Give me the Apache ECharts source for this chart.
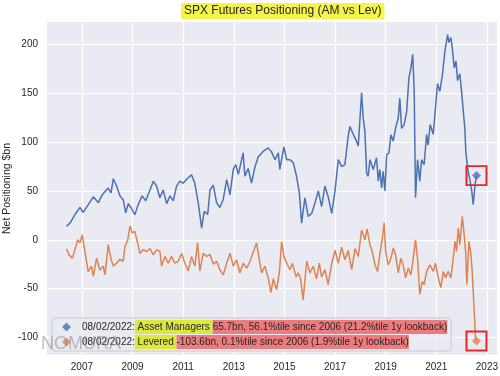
<!DOCTYPE html>
<html>
<head>
<meta charset="utf-8">
<title>SPX Futures Positioning (AM vs Lev)</title>
<script src="https://cdn.jsdelivr.net/npm/echarts@6.0.0/dist/echarts.min.js"></script>
<style>
  html, body { margin: 0; padding: 0; background: #ffffff; }
  #chart { width: 500px; height: 376px; }
</style>
</head>
<body>
<div id="chart"></div>
<script>
// dates as decimal years, values in $bn
const amDates = [
  2006.39, 2006.53, 2006.72, 2006.92,
  2007.05, 2007.25, 2007.45, 2007.65, 2007.78, 2007.91,
  2008.04, 2008.15, 2008.24, 2008.37, 2008.50, 2008.63, 2008.73, 2008.83, 2008.96,
  2009.09, 2009.22, 2009.38, 2009.52, 2009.69, 2009.82, 2009.95,
  2010.08, 2010.21, 2010.35, 2010.48, 2010.61, 2010.74, 2010.87,
  2011.00, 2011.14, 2011.33, 2011.46, 2011.60, 2011.73, 2011.83, 2011.97,
  2012.06, 2012.19, 2012.32, 2012.45, 2012.58, 2012.72, 2012.85, 2012.98,
  2013.08, 2013.18, 2013.31, 2013.37, 2013.44, 2013.57, 2013.70, 2013.84, 2013.97,
  2014.16, 2014.36, 2014.49, 2014.63, 2014.76, 2014.82, 2014.98,
  2015.09, 2015.22, 2015.35, 2015.48, 2015.59, 2015.68, 2015.81, 2015.94,
  2016.08, 2016.21, 2016.34, 2016.47, 2016.60, 2016.73, 2016.87,
  2017.00, 2017.13, 2017.26, 2017.39, 2017.52, 2017.59, 2017.72, 2017.85, 2017.92,
  2018.05, 2018.11, 2018.18, 2018.25, 2018.31, 2018.38, 2018.51, 2018.64, 2018.71, 2018.77, 2018.84, 2018.90, 2018.97,
  2019.04, 2019.13, 2019.21, 2019.30, 2019.39, 2019.50, 2019.56, 2019.63, 2019.73, 2019.83, 2019.92,
  2020.00, 2020.07, 2020.13, 2020.18, 2020.26, 2020.35, 2020.42, 2020.52, 2020.62, 2020.68, 2020.76, 2020.88, 2020.97,
  2021.05, 2021.14, 2021.24, 2021.34, 2021.45, 2021.50, 2021.58, 2021.63, 2021.71, 2021.78, 2021.84, 2021.93,
  2022.00, 2022.08, 2022.13, 2022.17, 2022.26, 2022.34, 2022.40, 2022.46, 2022.53, 2022.59
];
const amValues = [
  14, 17, 25.6, 33,
  28, 36, 44, 38, 45, 49.5,
  53, 48, 62.5, 55, 45, 41, 27.6, 37, 32,
  25.6, 36, 45, 40, 51, 60, 55,
  43, 51, 37, 45, 40, 55, 60,
  58, 62, 66.6, 58, 37, 12, 29, 26,
  51, 56, 38, 33, 41, 61.5, 46, 72,
  77, 67, 82, 89, 65, 73, 58, 75, 85,
  90.5, 94, 90, 82, 89, 72, 95,
  82, 82, 79, 65, 48, 17, 43, 24,
  27, 38, 50, 34, 55, 44, 27,
  50, 82, 75, 77, 106, 116, 108, 101, 96,
  150.5, 126, 111, 68, 65, 82, 72, 84, 60, 72, 53, 70, 50,
  87, 89, 107.5, 101, 114, 125, 145, 114, 118, 131, 166,
  176, 190, 151, 43, 82, 60, 82, 77, 108, 97, 118, 108, 135,
  160, 152, 168, 193, 210, 202, 207, 197, 176, 183, 163, 170,
  152, 128, 114, 89, 70, 60, 50, 36, 56, 65.7
];

const levDates = [
  2006.40, 2006.49, 2006.62, 2006.72, 2006.83, 2006.92,
  2007.01, 2007.09, 2007.19, 2007.25, 2007.38, 2007.45, 2007.58, 2007.71, 2007.84, 2007.91,
  2008.04, 2008.15, 2008.24, 2008.37, 2008.50, 2008.63, 2008.70, 2008.81, 2008.90, 2008.99,
  2009.09, 2009.20, 2009.29, 2009.42, 2009.56, 2009.69, 2009.82, 2009.95,
  2010.08, 2010.15, 2010.28, 2010.41, 2010.54, 2010.67, 2010.80, 2010.94,
  2011.07, 2011.20, 2011.33, 2011.46, 2011.57, 2011.66, 2011.79, 2011.93,
  2012.06, 2012.19, 2012.32, 2012.45, 2012.58, 2012.72, 2012.85, 2012.98,
  2013.11, 2013.24, 2013.37, 2013.51, 2013.64, 2013.77, 2013.90,
  2014.01, 2014.10, 2014.23, 2014.36, 2014.47, 2014.56, 2014.69, 2014.80, 2014.89, 2014.98,
  2015.09, 2015.22, 2015.32, 2015.46, 2015.55, 2015.64, 2015.74, 2015.88,
  2016.01, 2016.14, 2016.27, 2016.38, 2016.47, 2016.60, 2016.73, 2016.87,
  2017.00, 2017.13, 2017.26, 2017.39, 2017.52, 2017.66, 2017.79, 2017.92,
  2018.05, 2018.18, 2018.27, 2018.38, 2018.47, 2018.58, 2018.68, 2018.77, 2018.87, 2018.94,
  2019.00, 2019.10, 2019.21, 2019.30, 2019.39, 2019.50, 2019.60, 2019.69, 2019.79, 2019.89,
  2020.00, 2020.09, 2020.18, 2020.26, 2020.35, 2020.45, 2020.52, 2020.62, 2020.75, 2020.88, 2020.97,
  2021.08, 2021.18, 2021.28, 2021.37, 2021.47, 2021.58, 2021.67, 2021.74, 2021.80, 2021.87, 2021.93,
  2022.03, 2022.09, 2022.16, 2022.21, 2022.29, 2022.37, 2022.42, 2022.48, 2022.55, 2022.59
];
const levValues = [
  -9.5, -15.5, -18.8, -10.6, 0, -3,
  5, -7.6, -23.6, -32.5, -27, -37.6, -18.8, -31, -27, -36,
  -5, -20, -27, -24, -20, -22, -7, 0, 14, 7,
  8.5, -3, -14, -10, -12, -9, -15.5, -10,
  -12, -27, -17, -24, -17, -24, -22, -14,
  -24, -32, -17, -27, -3, -32, -14, -17,
  -15, -25, -22, -30.7, -36, -24, -13.7, -27,
  -20.5, -34, -24, -29, -22, -12.6, -3.4,
  -20.5, -34, -27, -39, -54, -40, -51, -34, -2, -17,
  -24, -30.7, -24, -38, -34, -40, -61.5, -22,
  -34, -27, -40, -24, -38, -30.7, -46, -24,
  -11, -24, -7.5, -20.5, -11, -30.7, -9, -17,
  10, 0, 11, -5, -12, -25.6, -32.4, -15, 1.7, 17.4,
  -12, -25.6, -19, -8.5, -15, -34, -19, -25.6, -39, -29,
  -36, -19, 0, -19, -56, -42.7, -46, -32.4, -25.6, -32.4, -24,
  -39, -49, -32.4, -39, -32.4, -39, -19, -1.7, -12, 12, -5,
  24, 8.5, -12, -46, -1.7, -15, -32.4, -63, -100, -103.6
];

const xTicks = [2007, 2009, 2011, 2013, 2015, 2017, 2019, 2021, 2023];
const yTicks = [-100, -50, 0, 50, 100, 150, 200];

const asOf = '08/02/2022';
const amNote = '65.7bn, 56.1%tile since 2006 (21.2%tile 1y lookback)';
const levNote = '-103.6bn, 0.1%tile since 2006 (1.9%tile 1y lookback)';

const BLUE = '#4C72B0';
const ORANGE = '#DD8452';
const FONT = 'Liberation Sans, Arial, sans-serif';

function pairs(xs, ys) {
  return xs.map((x, i) => [x, ys[i]]);
}
const amLast = [amDates[amDates.length - 1], amValues[amValues.length - 1]];
const levLast = [levDates[levDates.length - 1], levValues[levValues.length - 1]];

const redBox = {
  symbol: 'rect',
  symbolSize: [20, 19],
  itemStyle: { color: 'rgba(0,0,0,0)', borderColor: '#E8262B', borderWidth: 2 },
  label: { show: false },
  silent: true
};

const chart = echarts.init(document.getElementById('chart'), null, { renderer: 'canvas' });

chart.setOption({
  animation: false,
  backgroundColor: '#ffffff',
  textStyle: { fontFamily: FONT },
  title: {
    text: 'SPX Futures Positioning (AM vs Lev)',
    left: 181,
    top: 3,
    padding: [2, 3],
    backgroundColor: '#F4F548',
    textStyle: { fontSize: 12, fontWeight: 'normal', color: '#262626', fontFamily: FONT }
  },
  grid: {
    left: 47, right: 3, top: 22, bottom: 21,
    containLabel: false,
    outerBoundsMode: 'none',
    show: true, backgroundColor: '#EAEAF2', borderWidth: 0
  },
  xAxis: {
    type: 'value',
    min: 2005.62,
    max: 2023.4,
    axisLine: { show: false },
    axisTick: { show: false, customValues: xTicks },
    axisLabel: {
      customValues: xTicks,
      formatter: (v) => String(v),
      color: '#262626', fontSize: 10, margin: 7, fontFamily: FONT
    },
    splitLine: { show: true, lineStyle: { color: '#ffffff', width: 1.2 } }
  },
  yAxis: {
    type: 'value',
    min: -118,
    max: 223,
    name: 'Net Positioning $bn',
    nameLocation: 'middle',
    nameGap: 34,
    nameMoveOverlap: false,
    nameTextStyle: { color: '#262626', fontSize: 10.5, fontFamily: FONT },
    axisLine: { show: false },
    axisTick: { show: false, customValues: yTicks },
    axisLabel: {
      customValues: yTicks,
      color: '#262626', fontSize: 10, margin: 9, fontFamily: FONT
    },
    splitLine: { show: true, lineStyle: { color: '#ffffff', width: 1.2 } }
  },
  legend: {
    data: ['Asset Managers', 'Levered'],
    orient: 'vertical',
    left: 52,
    top: 318,
    itemGap: 1,
    itemWidth: 9,
    itemHeight: 9,
    icon: 'diamond',
    padding: [2, 4, 2, 10],
    backgroundColor: 'rgba(234,234,242,0.8)',
    borderColor: '#cccccc',
    borderWidth: 1,
    borderRadius: 3,
    formatter: (name) => name === 'Asset Managers'
      ? '{d|' + asOf + ':}{y| Asset Managers }{r|' + amNote + '}'
      : '{d|' + asOf + ':}{y| Levered }{r|' + levNote + '}',
    textStyle: {
      fontSize: 10,
      color: '#262626',
      fontFamily: FONT,
      rich: {
        d: { fontSize: 10, color: '#262626', height: 14, padding: [0, 0, 0, 6] },
        y: { fontSize: 10, color: '#262626', height: 14, backgroundColor: '#DDE83C' },
        r: { fontSize: 10, color: '#262626', height: 14, backgroundColor: '#EE7B7E' }
      }
    }
  },
  graphic: [{
    type: 'text',
    left: 41,
    top: 335,
    z: 100,
    silent: true,
    style: {
      text: 'NOMURA',
      font: '18px ' + FONT,
      fill: 'rgba(140,140,140,0.55)'
    }
  }],
  series: [
    {
      name: 'AM line',
      type: 'line',
      data: pairs(amDates, amValues),
      showSymbol: false,
      lineStyle: { color: BLUE, width: 1.5 },
      itemStyle: { color: BLUE },
      z: 2
    },
    {
      name: 'Lev line',
      type: 'line',
      data: pairs(levDates, levValues),
      showSymbol: false,
      lineStyle: { color: ORANGE, width: 1.5 },
      itemStyle: { color: ORANGE },
      z: 2
    },
    {
      name: 'Asset Managers',
      type: 'scatter',
      data: [amLast],
      symbol: 'diamond',
      symbolSize: 9,
      itemStyle: { color: BLUE },
      z: 4,
      markPoint: Object.assign({ data: [{ coord: amLast }] }, redBox)
    },
    {
      name: 'Levered',
      type: 'scatter',
      data: [levLast],
      symbol: 'diamond',
      symbolSize: 9,
      itemStyle: { color: ORANGE },
      z: 4,
      markPoint: Object.assign({ data: [{ coord: levLast }] }, redBox)
    }
  ]
});
</script>
</body>
</html>
